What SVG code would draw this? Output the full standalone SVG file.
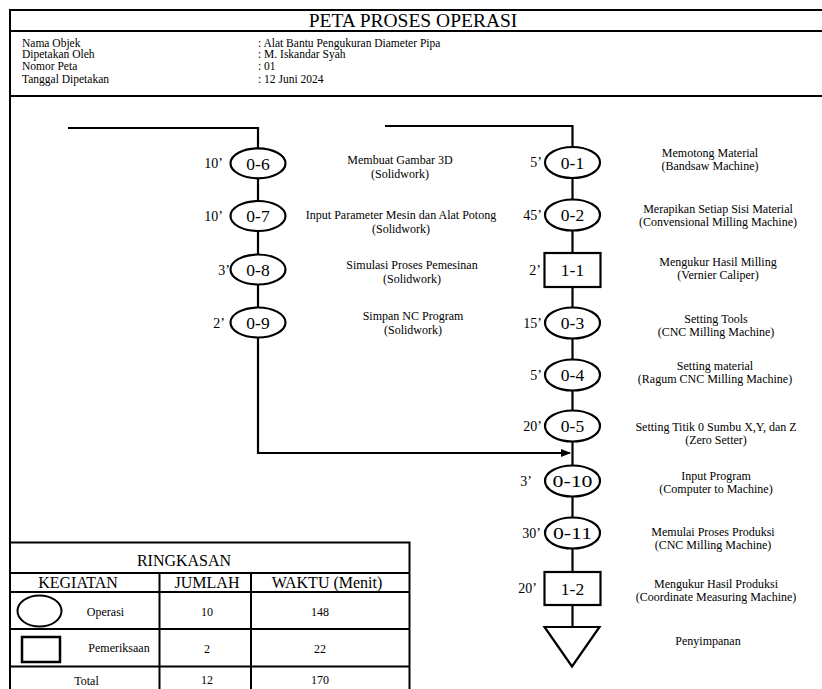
<svg xmlns="http://www.w3.org/2000/svg" width="822" height="689" viewBox="0 0 822 689">
<style>
  text { font-family: "Liberation Serif", "Times New Roman", serif; fill: #000; }
  .frame { stroke: #000; stroke-width: 2; fill: none; }
  .conn { stroke: #000; stroke-width: 2.2; fill: none; }
  .op { fill: #fff; stroke: #000; stroke-width: 2.2; }
  .node { font-size: 17.5px; text-anchor: middle; }
  .time { font-size: 14px; text-anchor: end; }
  .desc { font-size: 12px; text-anchor: middle; }
  .hdr { font-size: 11.5px; }
  .tbl { stroke: #000; stroke-width: 2; fill: none; }
  .th { font-size: 16px; text-anchor: middle; }
  .td { font-size: 12px; text-anchor: middle; }
</style>
<defs>
  <marker id="arrow" markerWidth="10" markerHeight="8" refX="9" refY="4" orient="auto" markerUnits="userSpaceOnUse">
    <path d="M0,0 L10,4 L0,8 Z" fill="#000"/>
  </marker>
</defs>
<rect width="822" height="689" fill="#fff"/>

<g id="header">
  <path class="frame" d="M10,689 V10 H822 M10,31 H822 M10,96 H822"/>
  <text x="413" y="27" font-size="19.5" text-anchor="middle">PETA PROSES OPERASI</text>
  <text class="hdr" x="22" y="47">Nama Objek</text>
  <text class="hdr" x="22" y="58">Dipetakan Oleh</text>
  <text class="hdr" x="22" y="70">Nomor Peta</text>
  <text class="hdr" x="22" y="83">Tanggal Dipetakan</text>
  <text class="hdr" x="258" y="47">: Alat Bantu Pengukuran Diameter Pipa</text>
  <text class="hdr" x="258" y="58">: M. Iskandar Syah</text>
  <text class="hdr" x="258" y="70">: 01</text>
  <text class="hdr" x="258" y="83">: 12 Juni 2024</text>
</g>

<g id="connectors">
  <path class="conn" d="M68,128 H258 V148.5"/>
  <path class="conn" d="M258,178 V201"/>
  <path class="conn" d="M258,231 V254.5"/>
  <path class="conn" d="M258,284.5 V307.5"/>
  <path class="conn" d="M258,337.5 V453 H570" marker-end="url(#arrow)"/>
  <path class="conn" d="M385,126 H572.5 V147"/>
  <path class="conn" d="M572.5,178 V199.5"/>
  <path class="conn" d="M572.5,230.5 V253"/>
  <path class="conn" d="M572.5,287 V307.5"/>
  <path class="conn" d="M572.5,338.5 V359.5"/>
  <path class="conn" d="M572.5,390.5 V410.5"/>
  <path class="conn" d="M572.5,441.5 V465.5"/>
  <path class="conn" d="M572.5,496.5 V517.5"/>
  <path class="conn" d="M572.5,548.5 V572"/>
  <path class="conn" d="M572.5,605 V627"/>
</g>

<g id="n-0-6">
  <ellipse class="op" cx="258" cy="163.3" rx="27.5" ry="15"/>
  <text class="node" x="258" y="169.5">0-6</text>
  <text class="time" x="223" y="168">10’</text>
  <text class="desc" x="400" y="164">Membuat Gambar 3D</text>
  <text class="desc" x="400" y="177.5">(Solidwork)</text>
</g>
<g id="n-0-7">
  <ellipse class="op" cx="258" cy="216" rx="27.5" ry="15"/>
  <text class="node" x="258" y="222">0-7</text>
  <text class="time" x="223" y="221">10’</text>
  <text class="desc" x="401" y="219">Input Parameter Mesin dan Alat Potong</text>
  <text class="desc" x="401" y="232.5">(Solidwork)</text>
</g>
<g id="n-0-8">
  <ellipse class="op" cx="258" cy="269.5" rx="27.5" ry="15"/>
  <text class="node" x="258" y="275.5">0-8</text>
  <text class="time" x="230" y="274.5">3’</text>
  <text class="desc" x="412" y="269">Simulasi Proses Pemesinan</text>
  <text class="desc" x="412" y="282.5">(Solidwork)</text>
</g>
<g id="n-0-9">
  <ellipse class="op" cx="258" cy="322.5" rx="27.5" ry="15"/>
  <text class="node" x="258" y="328.5">0-9</text>
  <text class="time" x="225" y="327.5">2’</text>
  <text class="desc" x="413" y="320">Simpan NC Program</text>
  <text class="desc" x="413" y="333.5">(Solidwork)</text>
</g>

<g id="n-0-1">
  <ellipse class="op" cx="572.5" cy="162.5" rx="27.5" ry="15.5"/>
  <text class="node" x="572.5" y="168.5">0-1</text>
  <text class="time" x="542" y="167">5’</text>
  <text class="desc" x="710" y="156.5">Memotong Material</text>
  <text class="desc" x="710" y="170">(Bandsaw Machine)</text>
</g>
<g id="n-0-2">
  <ellipse class="op" cx="572.5" cy="215" rx="27.5" ry="15.5"/>
  <text class="node" x="572.5" y="221">0-2</text>
  <text class="time" x="542" y="220">45’</text>
  <text class="desc" x="718" y="212.5">Merapikan Setiap Sisi Material</text>
  <text class="desc" x="718" y="226">(Convensional Milling Machine)</text>
</g>
<g id="n-1-1">
  <rect class="op" x="544.5" y="253" width="56" height="34"/>
  <text class="node" x="572.5" y="276">1-1</text>
  <text class="time" x="541" y="275">2’</text>
  <text class="desc" x="718" y="265.5">Mengukur Hasil Milling</text>
  <text class="desc" x="718" y="279">(Vernier Caliper)</text>
</g>
<g id="n-0-3">
  <ellipse class="op" cx="572.5" cy="323" rx="27.5" ry="15.5"/>
  <text class="node" x="572.5" y="329">0-3</text>
  <text class="time" x="542" y="328">15’</text>
  <text class="desc" x="716" y="322.5">Setting Tools</text>
  <text class="desc" x="716" y="336">(CNC Milling Machine)</text>
</g>
<g id="n-0-4">
  <ellipse class="op" cx="572.5" cy="375" rx="27.5" ry="15.5"/>
  <text class="node" x="572.5" y="381">0-4</text>
  <text class="time" x="542" y="380">5’</text>
  <text class="desc" x="715" y="369.5">Setting material</text>
  <text class="desc" x="715" y="383">(Ragum CNC Milling Machine)</text>
</g>
<g id="n-0-5">
  <ellipse class="op" cx="572.5" cy="426" rx="27.5" ry="15.5"/>
  <text class="node" x="572.5" y="432">0-5</text>
  <text class="time" x="542" y="431">20’</text>
  <text class="desc" x="716" y="430.5">Setting Titik 0 Sumbu X,Y, dan Z</text>
  <text class="desc" x="716" y="444">(Zero Setter)</text>
</g>
<g id="n-0-10">
  <ellipse class="op" cx="572.5" cy="481" rx="27.5" ry="15.5"/>
  <text class="node" x="572.5" y="487" textLength="40" lengthAdjust="spacingAndGlyphs">0-10</text>
  <text class="time" x="532" y="486">3’</text>
  <text class="desc" x="716" y="479.5">Input Program</text>
  <text class="desc" x="716" y="493">(Computer to Machine)</text>
</g>
<g id="n-0-11">
  <ellipse class="op" cx="572.5" cy="533" rx="27.5" ry="15.5"/>
  <text class="node" x="572.5" y="539" textLength="39" lengthAdjust="spacingAndGlyphs">0-11</text>
  <text class="time" x="541" y="538">30’</text>
  <text class="desc" x="713" y="535.5">Memulai Proses Produksi</text>
  <text class="desc" x="713" y="549">(CNC Milling Machine)</text>
</g>
<g id="n-1-2">
  <rect class="op" x="544.5" y="572" width="56" height="33"/>
  <text class="node" x="572.5" y="594.5">1-2</text>
  <text class="time" x="537" y="593">20’</text>
  <text class="desc" x="716" y="587.5">Mengukur Hasil Produksi</text>
  <text class="desc" x="716" y="601">(Coordinate Measuring Machine)</text>
</g>
<g id="n-storage">
  <polygon class="op" points="544.5,627 599.5,627 572,666.5"/>
  <text class="desc" x="708" y="645">Penyimpanan</text>
</g>

<g id="summary">
  <path class="tbl" d="M10,542.5 H409.5 V689 M10,573 H409.5 M10,592 H409.5 M10,629 H409.5 M10,666.5 H409.5 M159.5,573 V689 M251,573 V689"/>
  <text class="th" x="184" y="566" font-size="15.5">RINGKASAN</text>
  <text class="th" x="78" y="588">KEGIATAN</text>
  <text class="th" x="207" y="588">JUMLAH</text>
  <text class="th" x="327" y="588">WAKTU (Menit)</text>
  <ellipse cx="39.5" cy="611" rx="22" ry="15.5" fill="none" stroke="#000" stroke-width="2"/>
  <text class="td" x="105.5" y="616">Operasi</text>
  <text class="td" x="207" y="616">10</text>
  <text class="td" x="320" y="616">148</text>
  <rect x="22" y="637" width="38" height="25" fill="none" stroke="#000" stroke-width="2.5"/>
  <text class="td" x="119" y="652">Pemeriksaan</text>
  <text class="td" x="207" y="653">2</text>
  <text class="td" x="320" y="653">22</text>
  <text class="td" x="86.5" y="685">Total</text>
  <text class="td" x="207" y="684">12</text>
  <text class="td" x="320" y="684">170</text>
</g>
</svg>
